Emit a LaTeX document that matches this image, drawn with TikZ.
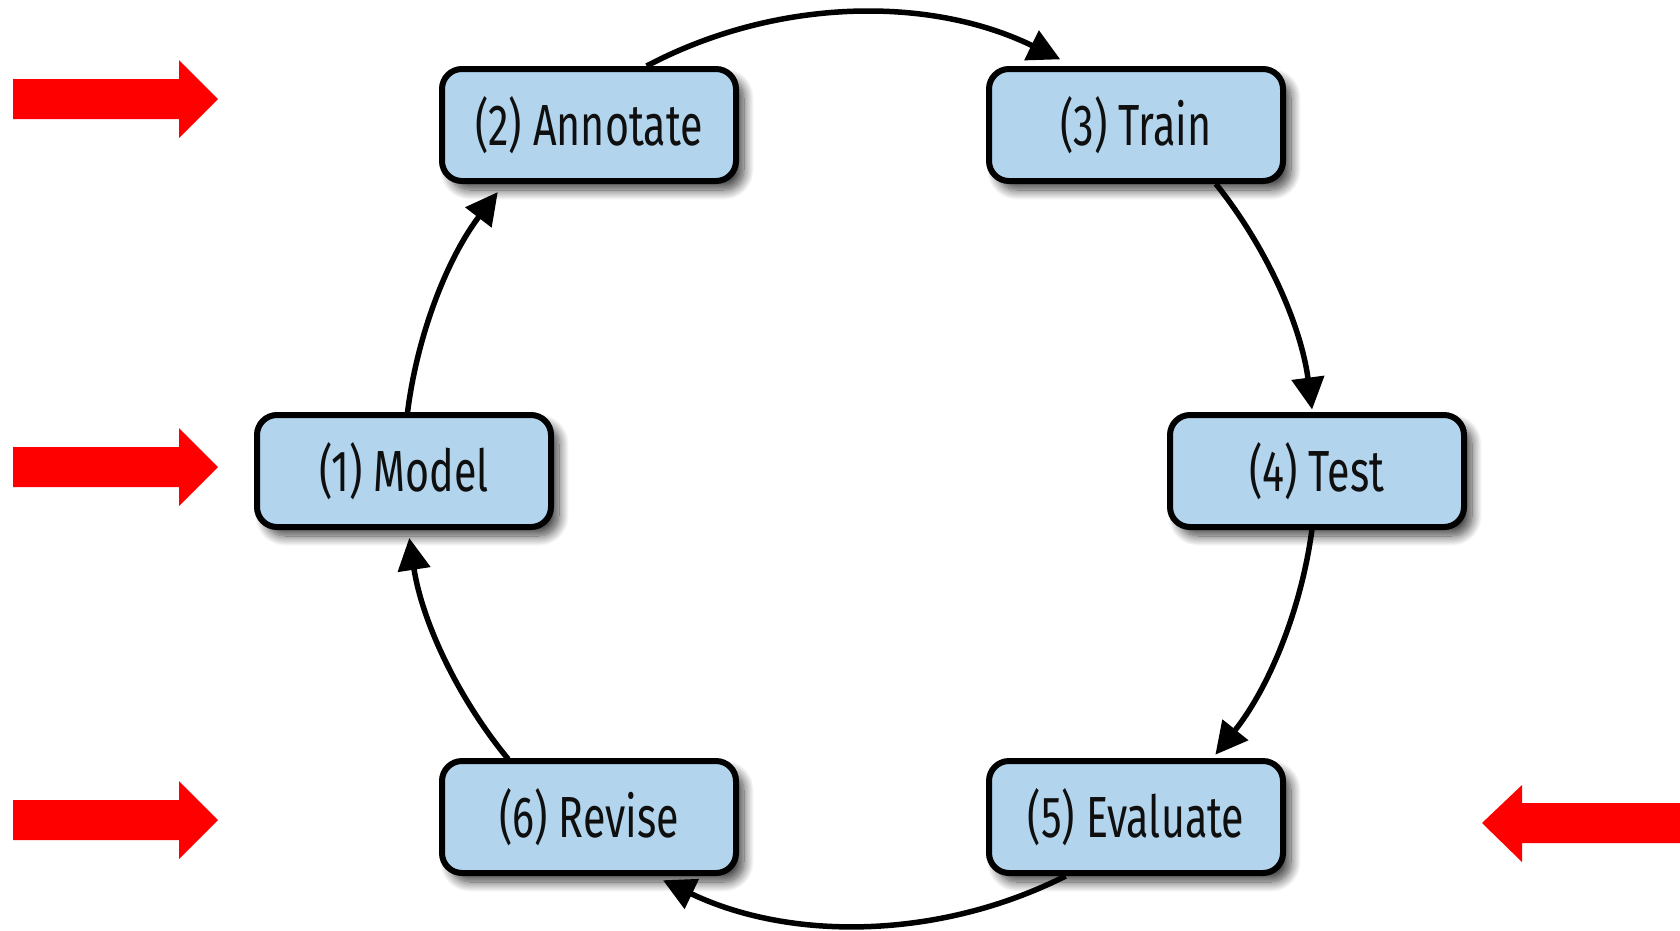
\documentclass[tikz,border=0pt]{standalone}
\usepackage{fontspec}
\setmainfont{Fira Sans}[FakeStretch=0.71]
\usetikzlibrary{arrows.meta,shadows.blur,calc}
\definecolor{boxblue}{RGB}{178,212,236}
\definecolor{txt}{RGB}{15,15,15}
\begin{document}
\begin{tikzpicture}[x=1pt,y=-1pt,
  stage/.style={draw=black, line width=6pt, rounded corners=20pt, fill=boxblue,
    minimum width=294pt, minimum height=112pt, inner sep=0pt,
    font=\fontsize{58}{62}\selectfont, text=txt,
    blur shadow={shadow xshift=8pt, shadow yshift=-9pt, shadow blur radius=10pt,
      shadow blur steps=14, shadow opacity=75}},
  conn/.style={line width=5.5pt, -{Triangle[length=32pt,width=32pt]}},
  redarrow/.style={fill=red, draw=none}]
\useasboundingbox (0,0) rectangle (1680,930);
\coordinate (c) at (860,469);
\node[stage] (m)  at (404,471)  {(1) Model};
\node[stage] (a)  at (589,125)  {(2) Annotate};
\node[stage] (t)  at (1136,125) {(3) Train};
\node[stage] (te) at (1317,471) {(4) Test};
\node[stage] (e)  at (1136,817) {(5) Evaluate};
\node[stage] (r)  at (589,817)  {(6) Revise};
\draw[conn] ($(c)+(173:456pt)$) arc[start angle=173, end angle=142.6, radius=456pt];
\draw[conn] ($(c)+(117.9:456pt)$) arc[start angle=117.9, end angle=63.95, radius=456pt];
\draw[conn] ($(c)+(38.7:456pt)$) arc[start angle=38.7, end angle=7.5, radius=456pt];
\draw[conn] ($(c)+(-7.5:456pt)$) arc[start angle=-7.5, end angle=-38.8, radius=456pt];
\draw[conn] ($(c)+(-63.2:456pt)$) arc[start angle=-63.2, end angle=-115.6, radius=456pt];
\draw[conn] ($(c)+(-140.5:456pt)$) arc[start angle=-140.5, end angle=-171.3, radius=456pt];
\fill[redarrow] (13,79) -- (179,79) -- (179,60) -- (218,99) -- (179,138) -- (179,119) -- (13,119) -- cycle;
\fill[redarrow] (13,447) -- (179,447) -- (179,428) -- (218,467) -- (179,506) -- (179,487) -- (13,487) -- cycle;
\fill[redarrow] (13,800) -- (179,800) -- (179,781) -- (218,820) -- (179,859) -- (179,840) -- (13,840) -- cycle;
\fill[redarrow] (1680,803) -- (1522,803) -- (1522,785) -- (1482,823) -- (1522,862) -- (1522,843) -- (1680,843) -- cycle;
\end{tikzpicture}
\end{document}
